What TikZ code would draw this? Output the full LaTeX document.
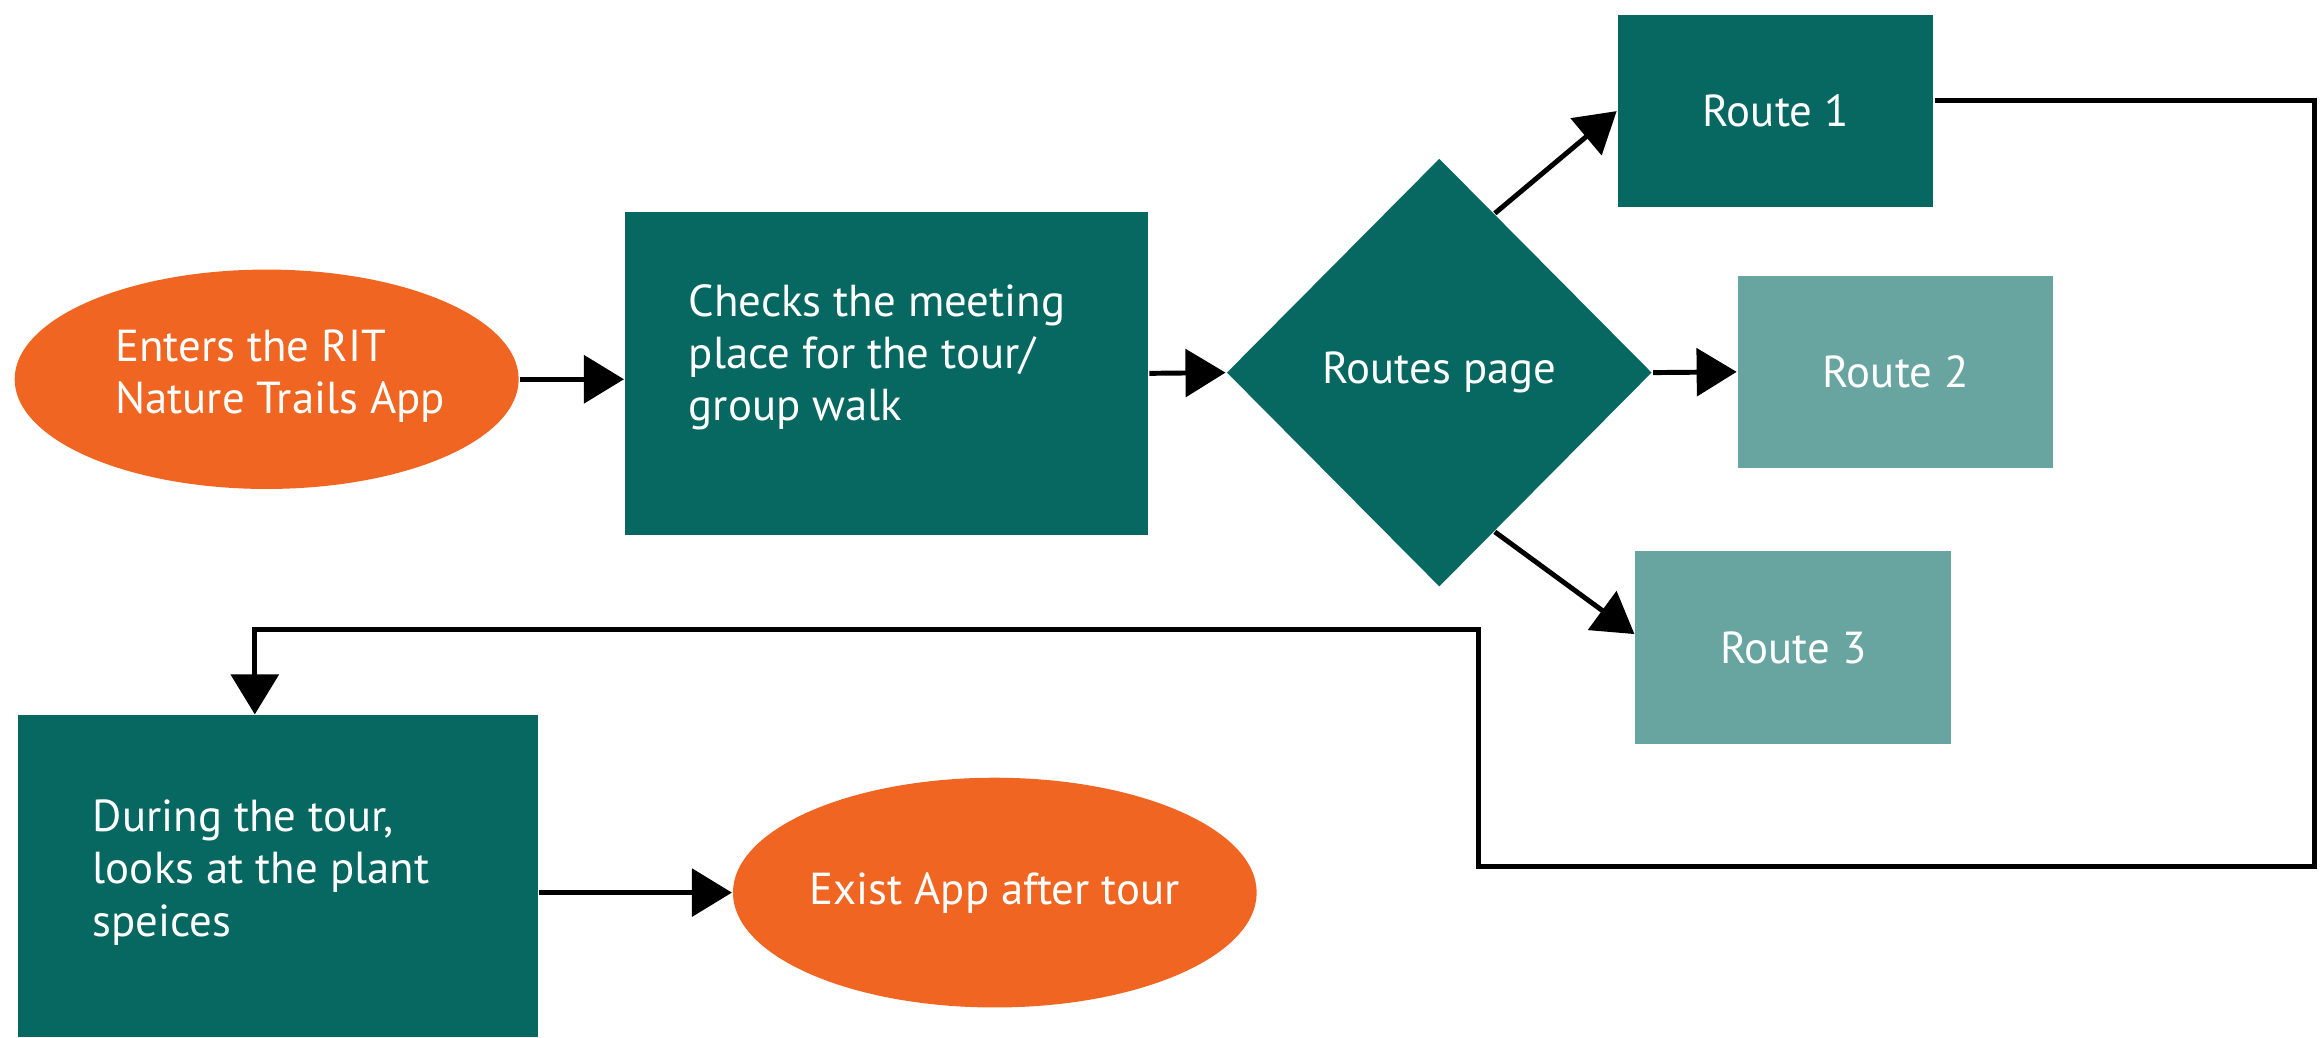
\documentclass[tikz,border=0pt]{standalone}
\usepackage{fontspec}
\setmainfont{PT Sans}
\usetikzlibrary{shapes.geometric,arrows.meta,calc}
\definecolor{dteal}{RGB}{7,104,98}
\definecolor{lteal}{RGB}{104,165,161}
\definecolor{orng}{RGB}{240,101,34}
\begin{document}
\begin{tikzpicture}[x=0.01cm,y=-0.01cm,
  txt/.style={text=white,font=\fontsize{8.6}{10}\selectfont},
  oval/.style={ellipse, fill=orng, inner sep=0, txt},
  dbox/.style={rectangle, fill=dteal, inner sep=0, txt},
  lbox/.style={rectangle, fill=lteal, inner sep=0, txt},
  conn/.style={line width=0.95pt, -{Triangle[length=0.27cm,width=0.32cm]}}]
\useasboundingbox (0,0) rectangle (1568,700);
\node[oval, minimum width=3.4cm, minimum height=1.48cm] (start) at (180,256) {};
\node[txt, align=left, inner sep=0] (starttxt) at (189,254) {Enters the RIT\\Nature Trails App};
\node[dbox, minimum width=3.53cm, minimum height=2.18cm] (chk) at (598.5,252) {};
\node[txt, align=left, inner sep=0] (chktxt) at (592,241) {Checks the meeting\\place for the tour/\\group walk};
\node[diamond, aspect=1, fill=dteal, inner sep=0, txt, minimum width=2.87cm, minimum height=2.89cm] (dia) at (971.5,251.5) {Routes page};
\node[dbox, minimum width=2.13cm, minimum height=1.3cm] (r1) at (1198.5,75) {Route 1};
\node[lbox, minimum width=2.13cm, minimum height=1.3cm] (r2) at (1279.5,251) {Route 2};
\node[lbox, minimum width=2.13cm, minimum height=1.3cm] (r3) at (1210.5,437) {Route 3};
\node[dbox, minimum width=3.51cm, minimum height=2.17cm] (tour) at (187.5,591.5) {};
\node[txt, anchor=west, align=left, inner sep=0] (tourtxt) at (62,589) {During the tour,\\looks at the plant\\speices};
\node[oval, minimum width=3.43cm, minimum height=1.55cm] (ex) at (671.5,602.5) {Exist App after tour};
\draw[conn] (start.east) -- (start.east -| chk.west);
\draw[conn] (chk.east) -- (dia.west);
\draw[conn] ($(dia.north)!0.26!(dia.east)$) -- (r1.west);
\draw[conn] (dia.east) -- (r2.west);
\draw[conn] ($(dia.south)!0.26!(dia.east)$) -- ([yshift=0.09cm]r3.west);
\draw[conn] ([yshift=0.07cm]r1.east) -| (1562,585) -| (998,425) -| ([xshift=-0.155cm]tour.north);
\draw[conn] (tour.east |- ex.west) -- (ex.west);
\end{tikzpicture}
\end{document}
